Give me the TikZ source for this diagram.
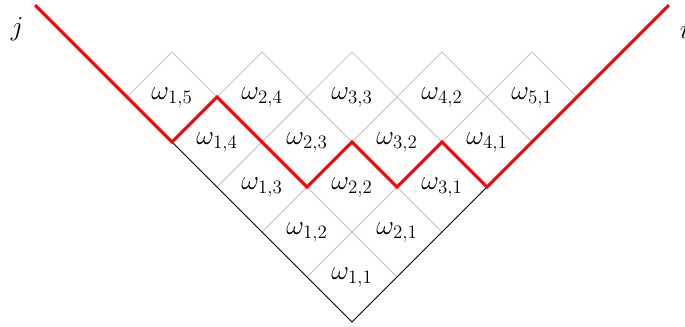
\documentclass[tikz,border=0pt]{standalone}
\DeclareMathSizes{16}{16}{12.5}{9}
\definecolor{gridgray}{RGB}{200,200,200}
\begin{document}
\begin{tikzpicture}[x=1cm,y=1cm,
  cell/.style={draw=gridgray, line width=0.5pt},
  lab/.style={font=\fontsize{16}{19}\selectfont, inner sep=0pt},
  axisline/.style={black, line width=0.6pt},
  redpath/.style={red, line width=1.9pt, line join=miter}]
\useasboundingbox (-7.822,-0.089) rectangle (7.4,7.156);
\foreach \a in {1,...,5}{
  \pgfmathtruncatemacro\bmax{6-\a}
  \foreach \b in {1,...,\bmax}{
    \draw[cell] (\a-\b,\a+\b-2) -- ++(1,1) -- ++(-1,1) -- ++(-1,-1) -- cycle;
    \node[lab] (w\a\b) at (\a-\b,\a+\b-1) {$\omega_{\a,\b}$};
  }
}
\coordinate (O) at (0,0);
\coordinate (L) at (-4,4);
\coordinate (R) at (3,3);
\draw[axisline] (L) -- (O) -- (R);
\coordinate (P0) at (-7.04,7.04);
\coordinate (P1) at (-3,5);
\coordinate (P2) at (-1,3);
\coordinate (P3) at (0,4);
\coordinate (P4) at (1,3);
\coordinate (P5) at (2,4);
\coordinate (P8) at (7.04,7.04);
\draw[redpath] (P0) -- (L) -- (P1) -- (P2) -- (P3) -- (P4) -- (P5) -- (R) -- (P8);
\node[lab] (jl) at (-7.44,6.51) {$j$};
\node[lab] (il) at (7.39,6.51) {$i$};
\end{tikzpicture}
\end{document}
